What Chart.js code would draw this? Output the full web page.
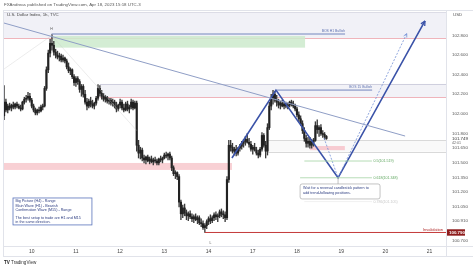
<!DOCTYPE html>
<html><head><meta charset="utf-8">
<script src="https://cdn.jsdelivr.net/npm/chart.js@4"></script>
<style>html,body{margin:0;padding:0;background:#fff;}canvas{display:block}</style>
</head><body>
<canvas id="c" width="474" height="268"></canvas>
<script>
// ---------- DATA (hourly candles, hour 0 = Apr 10 00:00, weekends skipped) ----------
const startHour = -15;
const opens = [
101.98,102.12,102.04,102.08,102.06,102.09,102.07,102.10,102.08,102.06,102.05,102.12,102.15,102.16,102.18,102.14,102.08,102.04,102.01,102.04,102.03,102.07,102.08,102.26,102.45,102.62,102.72,
102.70,102.63,102.60,102.58,102.59,102.55,102.57,102.54,102.48,102.44,102.45,102.38,102.32,102.36,102.33,102.25,102.28,102.20,102.12,102.08,102.13,102.10,102.08,102.11,102.16,102.26,102.21,102.18,102.15,102.17,102.13,102.14,102.11,102.12,102.08,102.05,102.09,102.12,102.06,102.04,102.10,102.05,102.07,102.12,102.06,102.11,
101.68,101.60,101.63,101.55,101.53,101.56,101.52,101.54,101.51,101.53,101.52,101.50,101.54,101.53,101.55,101.58,101.57,101.59,101.55,101.45,101.39,101.40,101.36,101.10,100.98,101.04,100.99,100.96,100.98,100.95,100.93,100.95,100.92,100.94,100.89,100.88,100.84,100.86,100.90,100.93,100.91,100.94,100.97,100.95,100.96,101.00,100.98,100.97,100.94,101.33,
101.68,101.66,101.62,101.64,101.60,101.65,101.67,101.70,101.72,101.74,101.71,101.69,101.64,101.66,101.63,101.60,101.58,101.64,101.78,101.68,101.62,101.86,102.08,102.16,102.20,
102.14,102.12,102.09,102.11,102.08,102.10,102.08,102.09,102.12,102.10,102.08,102.05,101.99,101.95,101.90,101.83,101.75,101.70,101.72,101.68,101.71,101.73,101.88,101.84,101.86,101.80,101.79,101.77];
const highs = [
102.29,102.15,102.10,102.11,102.10,102.12,102.11,102.12,102.10,102.09,102.13,102.17,102.19,102.22,102.21,102.16,102.10,102.06,102.05,102.07,102.09,102.10,102.28,102.48,102.65,102.76,102.81,
102.74,102.66,102.64,102.62,102.61,102.60,102.58,102.56,102.52,102.47,102.46,102.40,102.38,102.38,102.35,102.30,102.30,102.24,102.16,102.15,102.17,102.14,102.12,102.18,102.30,102.29,102.24,102.21,102.19,102.18,102.16,102.16,102.15,102.14,102.12,102.10,102.15,102.14,102.10,102.12,102.13,102.09,102.15,102.14,102.13,102.13,
101.73,101.66,101.65,101.58,101.57,101.58,101.56,101.57,101.55,101.56,101.54,101.55,101.57,101.56,101.60,101.61,101.60,101.61,101.57,101.47,101.42,101.41,101.38,101.12,101.07,101.08,101.02,101.00,101.01,100.98,100.97,100.98,100.96,100.96,100.93,100.91,100.88,100.92,100.95,100.97,100.96,100.99,101.00,100.98,101.02,101.03,101.01,101.00,101.36,101.73,
101.73,101.70,101.66,101.68,101.66,101.69,101.72,101.74,101.77,101.80,101.75,101.72,101.68,101.70,101.66,101.63,101.66,101.81,101.80,101.72,101.90,102.12,102.20,102.24,102.23,
102.19,102.15,102.13,102.14,102.12,102.12,102.11,102.13,102.14,102.13,102.10,102.07,102.02,101.98,101.93,101.86,101.78,101.76,101.76,101.74,101.75,101.92,101.94,101.88,101.89,101.83,101.81,101.78];
const lows = [
101.94,102.02,102.01,102.04,102.03,102.05,102.05,102.06,102.05,102.03,102.04,102.10,102.12,102.14,102.12,102.06,102.02,101.99,101.99,102.01,102.02,102.04,102.07,102.24,102.42,102.58,102.65,
102.60,102.57,102.56,102.54,102.53,102.53,102.52,102.46,102.42,102.40,102.36,102.29,102.28,102.30,102.22,102.18,102.17,102.10,102.04,102.06,102.07,102.06,102.05,102.09,102.14,102.18,102.15,102.13,102.12,102.11,102.10,102.09,102.08,102.06,102.02,102.03,102.06,102.04,102.02,102.03,102.03,102.01,102.05,102.04,102.05,101.62,
101.55,101.54,101.52,101.50,101.49,101.51,101.49,101.50,101.48,101.50,101.48,101.48,101.51,101.50,101.54,101.55,101.53,101.53,101.42,101.37,101.34,101.33,101.05,100.92,100.94,100.96,100.92,100.91,100.93,100.90,100.89,100.91,100.88,100.87,100.85,100.82,100.79,100.83,100.87,100.88,100.89,100.91,100.92,100.90,100.94,100.95,100.93,100.90,100.92,101.30,
101.62,101.60,101.58,101.57,101.58,101.62,101.64,101.66,101.68,101.70,101.66,101.62,101.59,101.62,101.58,101.55,101.56,101.62,101.66,101.55,101.58,101.84,102.04,102.10,102.12,
102.08,102.06,102.05,102.07,102.05,102.06,102.05,102.07,102.08,102.06,102.03,101.97,101.92,101.88,101.80,101.72,101.66,101.66,101.65,101.65,101.67,101.72,101.80,101.77,101.78,101.76,101.74,101.74];
const closes = [
102.12,102.04,102.08,102.06,102.09,102.07,102.10,102.08,102.06,102.05,102.12,102.15,102.16,102.18,102.14,102.08,102.04,102.01,102.04,102.03,102.07,102.08,102.26,102.45,102.62,102.72,102.70,
102.63,102.60,102.58,102.59,102.55,102.57,102.54,102.48,102.44,102.45,102.38,102.32,102.36,102.33,102.25,102.28,102.20,102.12,102.08,102.13,102.10,102.08,102.11,102.16,102.26,102.21,102.18,102.15,102.17,102.13,102.14,102.11,102.12,102.08,102.05,102.09,102.12,102.06,102.04,102.10,102.05,102.07,102.12,102.06,102.11,101.68,
101.60,101.63,101.55,101.53,101.56,101.52,101.54,101.51,101.53,101.52,101.50,101.54,101.53,101.55,101.58,101.57,101.59,101.55,101.45,101.39,101.40,101.36,101.10,100.98,101.04,100.99,100.96,100.98,100.95,100.93,100.95,100.92,100.94,100.89,100.88,100.84,100.86,100.90,100.93,100.91,100.94,100.97,100.95,100.96,101.00,100.98,100.97,100.94,101.33,101.68,
101.66,101.62,101.64,101.60,101.65,101.67,101.70,101.72,101.74,101.71,101.69,101.64,101.66,101.63,101.60,101.58,101.64,101.78,101.68,101.62,101.86,102.08,102.16,102.20,102.14,
102.12,102.09,102.11,102.08,102.10,102.08,102.09,102.12,102.10,102.08,102.05,101.99,101.95,101.90,101.83,101.75,101.70,101.72,101.68,101.71,101.73,101.88,101.84,101.86,101.80,101.79,101.77,101.749];

const dayTickHours = [0,24,48,72,96,120,144,168,192,216];
const dayLabels = ['10','11','12','13','14','17','18','19','20','21'];
const priceTicks = [102.8,102.6,102.4,102.2,102.0,101.8,101.65,101.5,101.35,101.2,101.05,100.91,100.7];
const lastPrice = 101.749;
const invalidationPrice = 100.79;
const fibLevels = [0.5, 0.618, 0.786];
const fibPrices = [101.519, 101.348, 101.105];
const infoLines = ['Big Picture (H4) - Range','Main Wave (H1) - Bearish','Confirmation Wave (M15) - Range','','The best setup to trade are H1 and M15','in the same direction.'];
const noteLines = ['Wait for a reversal candlestick pattern to','add trend-following positions.'];

// ---------- drawing annotations (data coordinates: hour, price) ----------
const FONT = '"Liberation Sans", Arial, sans-serif';
const hours = opens.map((_, i) => startHour + i);
const wickData = hours.map((h, i) => ({x: h, y: [lows[i], highs[i]]}));
const bodyData = hours.map((h, i) => ({x: h, y: [opens[i], closes[i]]}));

const zones = [
  {x0:-16, x1:226, y0:103.04, y1:102.775, fill:'rgba(230,230,240,0.55)', top:'#dcdce6', bottom:'#efb4bb'},
  {x0:37, x1:226, y0:102.305, y1:102.172, fill:'rgba(230,230,240,0.5)', top:'#cfcfde', bottom:'#efb4bb'},
  {x0:11.6, x1:148.4, y0:102.795, y1:102.676, fill:'rgba(205,234,205,0.85)'},
  {x0:-16, x1:108.7, y0:101.499, y1:101.428, fill:'rgba(247,200,204,0.85)'},
  {x0:128.3, x1:226, y0:101.734, y1:101.614, fill:'rgba(240,240,240,0.4)', top:'#d9d9d9', bottom:'#d9d9d9'},
  {x0:151, x1:170, y0:101.672, y1:101.63, fill:'rgba(246,184,192,0.7)'}
];

function lineDS(points, color, width, dash) {
  return {type:'line', data: points.map(p => ({x:p[0], y:p[1]})), borderColor: color, borderWidth: width,
    borderDash: dash || [], pointRadius: 0, fill: false, tension: 0, order: 1};
}
const projPts = [[108.7,101.55],[132.6,102.243],[166.3,101.348],[213.5,102.948]];
const dashPts = [[158.7,101.754],[166.3,101.348],[203.6,102.82]];

const datasets = [
  {type:'bar', data: bodyData, backgroundColor:'#222', barThickness:1.5, grouped:false, minBarLength:0.6, order:5},
  {type:'bar', data: wickData, backgroundColor:'#3a3a3a', barThickness:0.7, grouped:false, order:6},
  lineDS([[-15.6,102.93],[202.7,101.774]], '#8f9ec6', 1),
  lineDS([[-15.6,102.45],[10.8,102.80],[57,101.83]], 'rgba(200,200,200,0.5)', 0.7),
  lineDS([[10.8,102.815],[170.1,102.815]], '#7386bd', 1),
  lineDS([[133,102.243],[184.8,102.243]], '#7386bd', 1),
  lineDS([[148,fibPrices[0]],[184.7,fibPrices[0]]], '#a3d3a3', 0.8),
  lineDS([[145.7,fibPrices[1]],[184.7,fibPrices[1]]], '#a3d3a3', 0.8),
  lineDS([[148,fibPrices[2]],[184.7,fibPrices[2]]], '#ececec', 0.8),
  lineDS([[94,invalidationPrice],[226,invalidationPrice]], '#c43a3a', 1),
  lineDS(dashPts, '#7491d6', 0.8, [2,1.5]),
  lineDS(projPts, '#3a52a8', 1.6)
];

function txt(ctx, s, x, y, size, color, align, base, weight) {
  ctx.save();
  ctx.font = (weight || '') + ' ' + size + 'px ' + FONT;
  ctx.fillStyle = color; ctx.textAlign = align || 'left'; ctx.textBaseline = base || 'middle';
  ctx.fillText(s, x, y); ctx.restore();
}
function arrow(ctx, a, b, color, width, len) {
  const ang = Math.atan2(b[1]-a[1], b[0]-a[0]);
  ctx.save(); ctx.strokeStyle = color; ctx.lineWidth = width; ctx.beginPath();
  for (const s of [-1, 1]) {
    ctx.moveTo(b[0], b[1]);
    ctx.lineTo(b[0] - len*Math.cos(ang + s*0.45), b[1] - len*Math.sin(ang + s*0.45));
  }
  ctx.stroke(); ctx.restore();
}

const annot = {
  id: 'annot',
  beforeDraw(chart) {
    const ctx = chart.ctx;
    ctx.save(); ctx.fillStyle = '#fff'; ctx.fillRect(0,0,chart.width,chart.height); ctx.restore();
  },
  beforeDatasetsDraw(chart) {
    const {ctx, chartArea: ca, scales: {x, y}} = chart;
    ctx.save();
    ctx.beginPath(); ctx.rect(ca.left, ca.top, ca.right-ca.left, ca.bottom-ca.top); ctx.clip();
    for (const z of zones) {
      const X0 = x.getPixelForValue(z.x0), X1 = x.getPixelForValue(z.x1);
      const Y0 = y.getPixelForValue(z.y0), Y1 = y.getPixelForValue(z.y1);
      ctx.fillStyle = z.fill; ctx.fillRect(X0, Y0, X1-X0, Y1-Y0);
      ctx.lineWidth = 1;
      if (z.top) { ctx.strokeStyle = z.top; ctx.beginPath(); ctx.moveTo(X0, Math.round(Y0)+0.5); ctx.lineTo(X1, Math.round(Y0)+0.5); ctx.stroke(); }
      if (z.bottom) { ctx.strokeStyle = z.bottom; ctx.beginPath(); ctx.moveTo(X0, Math.round(Y1)+0.5); ctx.lineTo(X1, Math.round(Y1)+0.5); ctx.stroke(); }
    }
    ctx.restore();
  },
  afterDatasetsDraw(chart) {
    const {ctx, chartArea: ca, scales: {x, y}} = chart;
    const P = (h, p) => [x.getPixelForValue(h), y.getPixelForValue(p)];
    // arrowheads
    arrow(ctx, P(...projPts[2]), P(...projPts[3]), '#3a52a8', 1.3, 5);
    arrow(ctx, P(...dashPts[1]), P(...dashPts[2]), '#7491d6', 0.8, 4);
    // markers
    let q = P(10.8, 102.87); txt(ctx, 'H', q[0], q[1], 3.5, '#555', 'center');
    q = P(97, 100.686); txt(ctx, 'L', q[0], q[1], 3.5, '#555', 'center');
    // BOS labels
    q = P(170.1, 102.845); txt(ctx, 'BOS H1 Bullish', q[0], q[1], 3.4, '#5b6fb0', 'right');
    q = P(184.8, 102.272); txt(ctx, 'BOS 15 Bullish', q[0], q[1], 3.4, '#5b6fb0', 'right');
    // fib labels
    const fibColors = ['#62a862', '#62a862', '#c8c8c8'];
    fibLevels.forEach((lv, i) => {
      const r = P(185.5, fibPrices[i]);
      txt(ctx, lv + '(' + fibPrices[i].toFixed(3) + ')', r[0], r[1], 3.6, fibColors[i], 'left');
    });
    // invalidation label
    q = P(223.3, 100.812); txt(ctx, 'Invalidation', q[0], q[1], 4, '#b02a2a', 'right');
    // callout box
    const c0 = P(145.7, 101.285), c1 = P(189.1, 101.132);
    const vb = P(166.3, 101.348);
    ctx.save(); ctx.strokeStyle = '#9a9a9a'; ctx.lineWidth = 0.6;
    ctx.beginPath(); ctx.moveTo(vb[0], vb[1]); ctx.lineTo(vb[0], c0[1]); ctx.stroke();
    ctx.fillStyle = '#fff'; ctx.beginPath(); ctx.roundRect(c0[0], c0[1], c1[0]-c0[0], c1[1]-c0[1], 2); ctx.fill(); ctx.stroke();
    ctx.restore();
    noteLines.forEach((s, i) => txt(ctx, s, c0[0]+3, c0[1]+4.5 + i*4.6, 3.7, '#2c3c80', 'left'));
    // info box
    const b0 = P(-10.15, 101.142), b1 = P(32.7, 100.867);
    ctx.save(); ctx.fillStyle = '#fff'; ctx.strokeStyle = '#5a74bb'; ctx.lineWidth = 0.8;
    ctx.fillRect(b0[0], b0[1], b1[0]-b0[0], b1[1]-b0[1]); ctx.strokeRect(b0[0], b0[1], b1[0]-b0[0], b1[1]-b0[1]);
    ctx.restore();
    infoLines.forEach((s, i) => txt(ctx, s, b0[0]+2.5, b0[1]+3.3 + i*4.2, 3.7, '#2c3c80', 'left'));
  },
  afterDraw(chart) {
    const {ctx, chartArea: ca, scales: {y}} = chart;
    ctx.save(); ctx.strokeStyle = '#e1e3ea'; ctx.lineWidth = 1;
    ctx.beginPath();
    ctx.moveTo(3, 10.5); ctx.lineTo(473, 10.5);
    ctx.moveTo(3.5, 10); ctx.lineTo(3.5, 256);
    ctx.moveTo(ca.right+0.5, 10); ctx.lineTo(ca.right+0.5, 256);
    ctx.moveTo(3, ca.bottom+0.5); ctx.lineTo(473, ca.bottom+0.5);
    ctx.moveTo(3, 256.5); ctx.lineTo(473, 256.5);
    ctx.stroke(); ctx.restore();
    txt(ctx, 'FXAndreas published on TradingView.com, Apr 18, 2023 15:18 UTC-3', 4, 5, 4.4, '#555');
    txt(ctx, 'U.S. Dollar Index, 1h, TVC', 7, 14.5, 4.4, '#444');
    txt(ctx, 'USD', 453, 14.5, 4.4, '#555');
    // current price label
    const lp = y.getPixelForValue(lastPrice);
    txt(ctx, lastPrice.toFixed(3), 452, lp, 4.4, '#333');
    txt(ctx, '42:01', 452, lp + 4.3, 3.6, '#666');
    // invalidation price box
    const ip = y.getPixelForValue(invalidationPrice);
    ctx.save(); ctx.fillStyle = '#8e1c1c'; ctx.fillRect(447, ip - 3.2, 18, 6.4); ctx.restore();
    txt(ctx, invalidationPrice.toFixed(3), 449, ip, 4.4, '#fff', 'left', 'middle', 'bold');
    // TradingView logo
    txt(ctx, 'TV', 4, 263, 4.6, '#222', 'left', 'middle', 'bold');
    txt(ctx, 'TradingView', 11, 263, 4.6, '#333');
  }
};

new Chart(document.getElementById('c').getContext('2d'), {
  type: 'bar',
  data: {datasets},
  options: {
    responsive: false, animation: false, devicePixelRatio: 1,
    layout: {padding: {left: 3, top: 10, right: 0, bottom: 0}},
    plugins: {legend: {display: false}, tooltip: {enabled: false}},
    scales: {
      x: {type: 'linear', min: -15.58, max: 224.9, offset: false,
        grid: {display: false, drawTicks: false}, border: {display: false},
        afterBuildTicks: s => { s.ticks = dayTickHours.map(v => ({value: v})); },
        afterFit: s => { s.height = 22; },
        ticks: {autoSkip: false, maxRotation: 0, padding: 3, font: {size: 5, family: FONT}, color: '#444',
          callback: v => { const i = dayTickHours.indexOf(v); return i >= 0 ? dayLabels[i] : ''; }}},
      y: {position: 'right', min: 100.652, max: 103.06,
        grid: {display: false, drawTicks: false}, border: {display: false},
        afterBuildTicks: s => { s.ticks = priceTicks.map(v => ({value: v})); },
        afterFit: s => { s.width = 28; },
        ticks: {autoSkip: false, padding: 6, font: {size: 4.4, family: FONT}, color: '#555',
          callback: v => Number(v).toFixed(3)}}
    }
  },
  plugins: [annot]
});
</script>
</body></html>
